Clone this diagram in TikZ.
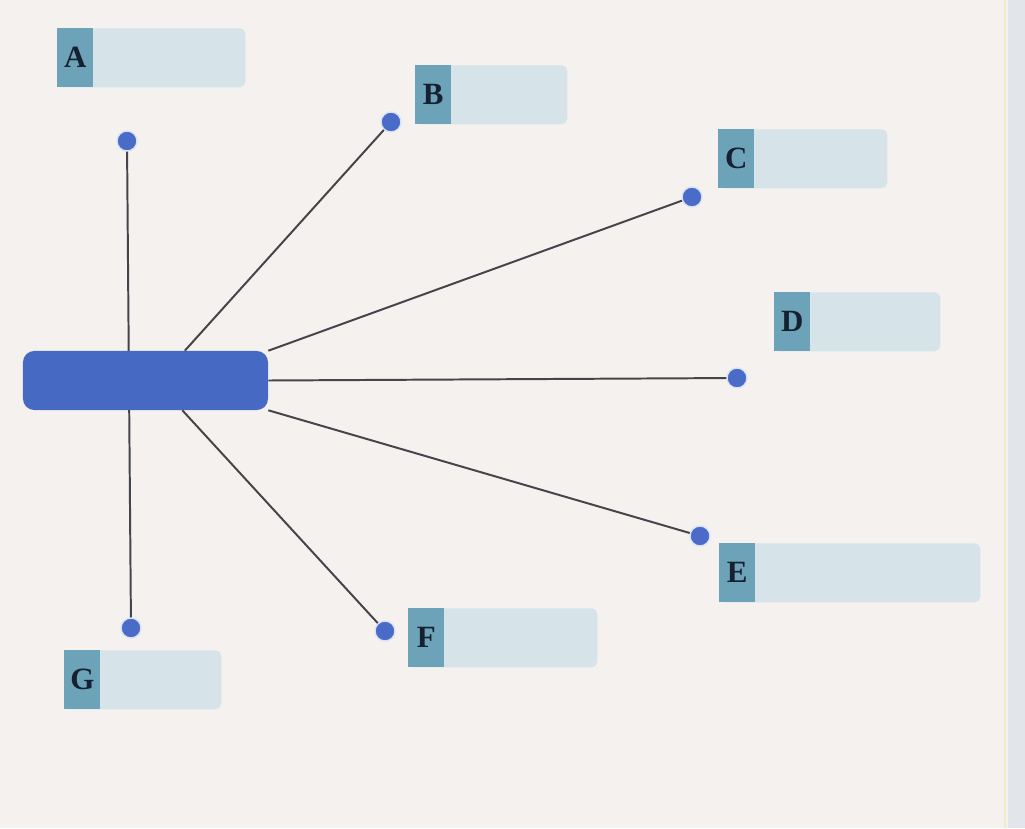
\documentclass[tikz,border=0pt]{standalone}
\usepackage{fontspec}
\setmainfont{Liberation Serif}
\usetikzlibrary{calc}

\definecolor{paper}{RGB}{244,241,239}
\definecolor{rimgray}{RGB}{226,229,234}
\definecolor{rimyellow}{RGB}{240,236,200}
\definecolor{hubblue}{RGB}{70,106,196}
\definecolor{dotblue}{RGB}{74,108,200}
\definecolor{labteal}{RGB}{108,163,184}
\definecolor{lightbox}{RGB}{214,228,233}
\definecolor{linkgray}{RGB}{68,68,74}
\definecolor{navy}{RGB}{22,32,48}

\begin{document}
\begin{tikzpicture}[x=0.025cm, y=-0.025cm,
  hub/.style={fill=hubblue, rounded corners=8pt, minimum width=6.125cm,
    minimum height=1.475cm, inner sep=0pt},
  lbox/.style={fill=lightbox, rounded corners=4pt, minimum height=1.475cm,
    inner sep=0pt, anchor=north west},
  lab/.style={fill=labteal, minimum width=0.9cm, minimum height=1.475cm,
    inner sep=0pt, anchor=north west, text=navy,
    font=\fontsize{22}{24}\selectfont\bfseries},
  endpt/.style={circle, fill=dotblue, draw=white!80!dotblue, line width=1pt,
    minimum size=0.5cm, inner sep=0pt},
  link/.style={draw=linkgray, line width=1.4pt}]
  \useasboundingbox (0,0) rectangle (1025,828);

  % paper
  \fill[paper] (0,0) rectangle (1025,828);
  \fill[rimgray] (1008,0) rectangle (1025,828);
  \draw[rimyellow, line width=1.2pt] (1005,0) -- (1005,828);

  % boxes
  \node[lbox, minimum width=4.7cm] (boxA) at (57,28) {};
  \node[lab] (labA) at (boxA.north west) {A};
  \node[lbox, minimum width=3.8cm] (boxB) at (415,65) {};
  \node[lab] (labB) at (boxB.north west) {B};
  \node[lbox, minimum width=4.225cm] (boxC) at (718,129) {};
  \node[lab] (labC) at (boxC.north west) {C};
  \node[lbox, minimum width=4.15cm] (boxD) at (774,292) {};
  \node[lab] (labD) at (boxD.north west) {D};
  \node[lbox, minimum width=6.525cm] (boxE) at (719,543) {};
  \node[lab] (labE) at (boxE.north west) {E};
  \node[lbox, minimum width=4.725cm] (boxF) at (408,608) {};
  \node[lab] (labF) at (boxF.north west) {F};
  \node[lbox, minimum width=3.925cm] (boxG) at (64,650) {};
  \node[lab] (labG) at (boxG.north west) {G};

  % end points
  \node[endpt] (dotA) at (127,141) {};
  \node[endpt] (dotB) at (391,122) {};
  \node[endpt] (dotC) at (692,197) {};
  \node[endpt] (dotD) at (737,378) {};
  \node[endpt] (dotE) at (700,536) {};
  \node[endpt] (dotF) at (385,631) {};
  \node[endpt] (dotG) at (131,628) {};

  % vertical line behind the hub
  \draw[link] (dotA) -- (dotG);

  \node[hub] (hub) at (145.5,380.5) {};

  \draw[link] ($(hub.north west)!0.66!(hub.north east)$) -- (dotB);
  \draw[link] (hub.north east) -- (dotC);
  \draw[link] (hub.east) -- (dotD);
  \draw[link] (hub.south east) -- (dotE);
  \draw[link] ($(hub.south west)!0.65!(hub.south east)$) -- (dotF);
\end{tikzpicture}
\end{document}
